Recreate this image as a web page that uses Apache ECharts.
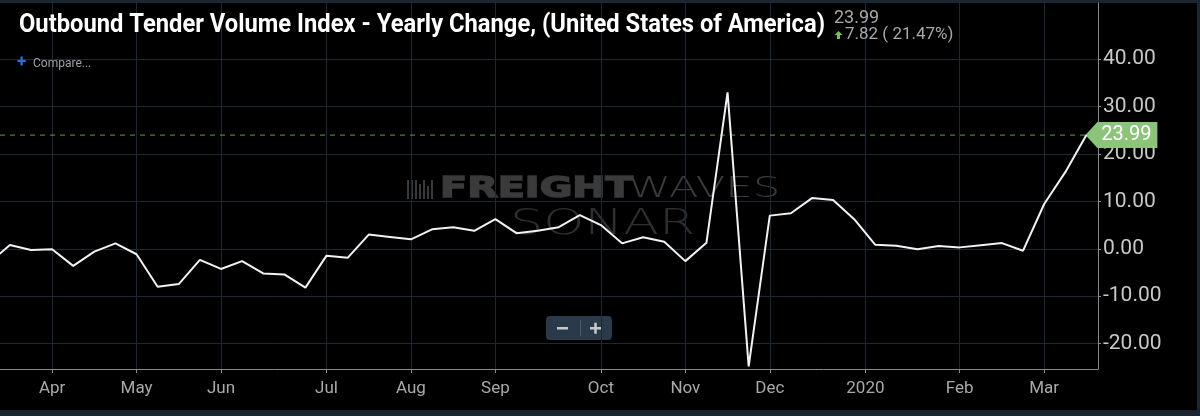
<!DOCTYPE html>
<html><head><meta charset="utf-8">
<script src="https://cdn.jsdelivr.net/npm/echarts@6/dist/echarts.min.js"></script>
<style>html,body{margin:0;padding:0;background:#000;overflow:hidden}#c{width:1200px;height:416px}</style>
</head><body><div id="c"></div>
<script>
// Weekly yearly-change values, oldest first (first point sits just left of the visible area)
const firstWeekIndex = -1;
const values = [
  -3.0, 0.8, -0.25, -0.1, -3.6, -0.6, 1.15, -1.15, -8.0, -7.45,
  -2.35, -4.25, -2.6, -5.2, -5.4, -8.2, -1.45, -1.9, 3.0, 2.5,
  2.0, 4.1, 4.55, 3.8, 6.25, 3.3, 3.8, 4.55, 7.1, 5.0,
  1.15, 2.45, 1.5, -2.6, 1.3, 33.0, -24.8, 7.0, 7.5, 10.7,
  10.3, 6.25, 0.85, 0.65, -0.1, 0.6, 0.3, 0.75, 1.2, -0.4,
  9.45, 16.17, 23.99
];
// Month labels and where they fall on the week scale
const monthTickPositions = [2, 6, 10, 15, 19, 23, 28, 32, 36, 40.53, 45, 49];
const monthTickLabels = ['Apr', 'May', 'Jun', 'Jul', 'Aug', 'Sep', 'Oct', 'Nov', 'Dec', '2020', 'Feb', 'Mar'];
const yTickValues = [-20, -10, 0, 10, 20, 30, 40];
const titleText = 'Outbound Tender Volume Index - Yearly Change, (United States of America)';
const lastValue = 23.99;
const changeValue = 7.82;
const changePct = 21.47;

const xMin = -0.469, xMax = 51.55;
const seriesData = values.map((v, i) => [i + firstWeekIndex, v]);
const lastIndex = values.length - 1 + firstWeekIndex;

// condense the bold title to the reference width
const titleFont = 'bold 26px Roboto';
const mctx = document.createElement('canvas').getContext('2d');
mctx.font = titleFont;
const titleScale = 806 / mctx.measureText(titleText).width;

const chart = echarts.init(document.getElementById('c'), null, {renderer: 'canvas'});
const gridColor = '#1b2835';
const axisColor = '#8a8a8a';
const dashGreen = '#5f9f45';
const txt = (extra) => Object.assign({textAlign: 'left', textVerticalAlign: 'middle', align: 'left', verticalAlign: 'middle'}, extra);

chart.setOption({
  backgroundColor: '#000',
  animation: false,
  grid: {left: 0, right: 102, top: 3, bottom: 47, containLabel: false},
  xAxis: {
    type: 'value',
    min: xMin,
    max: xMax,
    axisLine: {show: true, onZero: false, lineStyle: {color: axisColor, width: 1}},
    axisTick: {show: true, length: 4, lineStyle: {color: axisColor}, customValues: monthTickPositions},
    axisLabel: {
      customValues: monthTickPositions,
      color: '#a9a9a9', fontSize: 17, fontFamily: 'Roboto', margin: 11,
      formatter: v => {
        const i = monthTickPositions.findIndex(p => Math.abs(p - v) < 1e-6);
        return i >= 0 ? monthTickLabels[i] : '';
      }
    },
    splitLine: {show: true, lineStyle: {color: gridColor, width: 1}}
  },
  yAxis: {
    type: 'value',
    position: 'right',
    min: -25.36,
    max: 51.86,
    axisLine: {show: true, onZero: false, lineStyle: {color: axisColor, width: 1}},
    axisTick: {show: true, length: 3, lineStyle: {color: axisColor}, customValues: yTickValues},
    axisLabel: {
      customValues: yTickValues,
      color: '#c8c8c8', fontSize: 21, fontFamily: 'Roboto', margin: 5,
      formatter: v => v.toFixed(2)
    },
    splitLine: {show: true, lineStyle: {color: gridColor, width: 1}}
  },
  series: [{
    type: 'line',
    name: 'last',
    data: [[xMin, lastValue], [xMax, lastValue]],
    symbol: 'none',
    silent: true,
    color: dashGreen,
    lineStyle: {color: dashGreen, type: [5, 5], width: 1},
    z: 3
  }, {
    type: 'line',
    data: seriesData,
    symbol: 'none',
    clip: true,
    lineStyle: {color: '#f2f2f2', width: 2},
    z: 5,
    markPoint: {
      silent: true,
      symbol: 'path://M0,13 L12,0 L72,0 L72,26 L12,26 Z',
      symbolSize: [72, 26],
      symbolKeepAspect: false,
      symbolOffset: [35, 0],
      itemStyle: {color: '#8cc47a'},
      label: {
        show: true, position: 'inside', offset: [5, 0],
        color: '#ffffff', fontSize: 20, fontFamily: 'Roboto',
        formatter: p => p.value.toFixed(2)
      },
      data: [{coord: [lastIndex, lastValue], value: lastValue}]
    }
  }],
  graphic: [
    // frame strips
    {type: 'rect', shape: {x: 0, y: 0, width: 1200, height: 3}, style: {fill: '#1c2631'}, silent: true},
    {type: 'rect', shape: {x: 1197, y: 0, width: 3, height: 416}, style: {fill: '#1c2631'}, silent: true},
    {type: 'rect', shape: {x: 0, y: 410, width: 1200, height: 6}, style: {fill: '#1c2631'}, silent: true},
    // title
    {type: 'text', x: 19, y: 25, scaleX: titleScale, silent: true, z: 10,
      style: txt({text: titleText, fill: '#ffffff', font: titleFont})},
    {type: 'text', x: 834, y: 18, silent: true, z: 10,
      style: txt({text: lastValue.toFixed(2), fill: '#a8a8a8', font: '18px Roboto'})},
    {type: 'polygon', shape: {points: [[838.5, 31], [842.5, 35], [840, 35], [840, 39], [837, 39], [837, 35], [834.5, 35]]}, style: {fill: '#7dc242'}, silent: true, z: 10},
    {type: 'text', x: 845, y: 35, silent: true, z: 10,
      style: txt({text: changeValue.toFixed(2) + ' ( ' + changePct.toFixed(2) + '%)', fill: '#a8a8a8', font: '17px Roboto'})},
    {type: 'text', x: 17, y: 63, silent: true, z: 10,
      style: txt({text: '+', fill: '#2f6fd8', font: 'bold 17px Roboto'})},
    {type: 'text', x: 33, y: 64, silent: true, z: 10,
      style: txt({text: 'Compare...', fill: '#a0a0a0', font: '12px Roboto'})},
    // watermark
    {type: 'group', silent: true, z: 1, children: [
      {type: 'rect', shape: {x: 407, y: 180, width: 2, height: 19}, style: {fill: '#3a3a3a'}},
      {type: 'rect', shape: {x: 411, y: 180, width: 2, height: 19}, style: {fill: '#3a3a3a'}},
      {type: 'rect', shape: {x: 415, y: 180, width: 2, height: 19}, style: {fill: '#3a3a3a'}},
      {type: 'rect', shape: {x: 419, y: 184, width: 2, height: 15}, style: {fill: '#3a3a3a'}},
      {type: 'rect', shape: {x: 423, y: 180, width: 2, height: 19}, style: {fill: '#3a3a3a'}},
      {type: 'rect', shape: {x: 427, y: 186, width: 2, height: 13}, style: {fill: '#3a3a3a'}},
      {type: 'rect', shape: {x: 431, y: 180, width: 2, height: 19}, style: {fill: '#3a3a3a'}},
      {type: 'text', x: 440, y: 189, scaleX: 1.37,
        style: txt({text: 'FREIGHT', fill: '#3a3a3a', font: '900 29px "DejaVu Sans"', stroke: '#3a3a3a', lineWidth: 1.5})},
      {type: 'text', x: 628, y: 189, scaleX: 1.5,
        style: txt({text: 'WAVES', fill: '#3a3a3a', font: '200 29px "DejaVu Sans", Roboto'})},
      {type: 'text', x: 510, y: 225, scaleX: 1.45,
        style: txt({text: 'SONAR', fill: '#2f2f2f', font: '200 36px "DejaVu Sans", Roboto'})}
    ]},
    // zoom buttons
    {type: 'group', silent: true, z: 10, children: [
      {type: 'rect', shape: {x: 546, y: 316, width: 66, height: 24, r: 4}, style: {fill: '#2a3a4a'}},
      {type: 'rect', shape: {x: 580, y: 320, width: 1, height: 16}, style: {fill: '#4a5866'}},
      {type: 'rect', shape: {x: 557, y: 327, width: 11, height: 2.5}, style: {fill: '#c8c8c8'}},
      {type: 'rect', shape: {x: 590, y: 327, width: 11, height: 2.5}, style: {fill: '#c8c8c8'}},
      {type: 'rect', shape: {x: 594.25, y: 322.75, width: 2.5, height: 11}, style: {fill: '#c8c8c8'}}
    ]}
  ]
});
</script>
</body></html>
